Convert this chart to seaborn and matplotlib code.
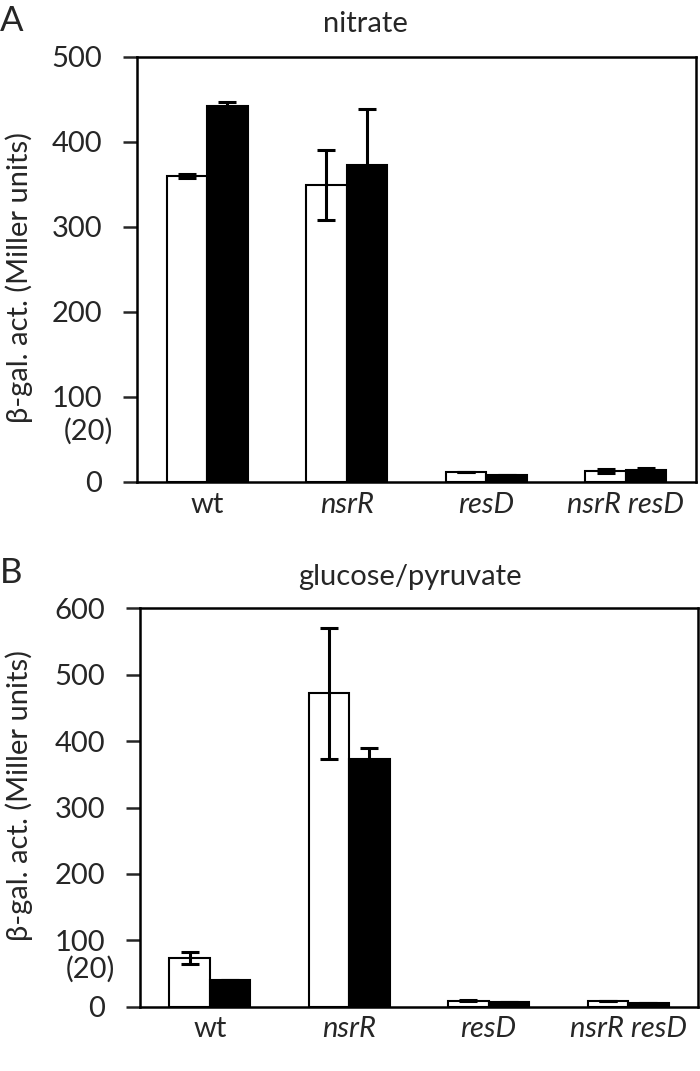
import numpy as np
import pandas as pd
import seaborn as sns
import matplotlib
matplotlib.use('Agg')
import matplotlib.pyplot as plt
from matplotlib.transforms import blended_transform_factory

# %%
'''Data'''

strains = ['wt', 'nsrR', 'resD', 'nsrR resD']
conditions = ['open', 'filled']

nitrate_open = [360, 349, 12, 13]
nitrate_open_err = [2, 41, 0, 2]
nitrate_filled = [442, 373, 8, 14]
nitrate_filled_err = [5, 66, 0, 2]

gluc_open = [74, 472, 9, 9]
gluc_open_err = [9, 99, 1, 0]
gluc_filled = [40, 373, 7, 6]
gluc_filled_err = [0, 17, 0, 0]

sns.set_style('white')
plt.rcParams['font.family'] = ['Lato', 'DejaVu Sans']

FS = 21

fig = plt.figure(figsize=(7, 10.71), dpi=100)
axA = fig.add_axes([0.196, 0.550, 0.798, 0.397])
axB = fig.add_axes([0.200, 0.060, 0.797, 0.372])


def panel(ax, vals_open, err_open, vals_filled, err_filled, ymax, lab_xy, y20):
    df = pd.DataFrame({
        'strain': strains * 2,
        'cond': ['open'] * 4 + ['filled'] * 4,
        'value': list(vals_open) + list(vals_filled),
    })
    sns.barplot(data=df, x='strain', y='value', hue='cond', order=strains,
                hue_order=conditions, palette=['white', 'black'],
                width=0.58, gap=0, errorbar=None, edgecolor='black',
                linewidth=1.5, legend=False, ax=ax)
    for cont, errs, vals in zip(ax.containers, [err_open, err_filled],
                                [vals_open, vals_filled]):
        xs = [p.get_x() + p.get_width() / 2 for p in cont.patches]
        ax.errorbar(xs, vals, yerr=errs, fmt='none', ecolor='black',
                    elinewidth=2.2, capsize=6.5, capthick=2.2, zorder=5)
    ax.set_xlim(-0.5, 3.5)
    ax.set_ylim(0, ymax)
    ax.set_yticks(np.arange(0, ymax + 1, 100))
    ax.set_xlabel('')
    ax.set_ylabel('β-gal. act. (Miller units)', fontsize=FS)
    ax.yaxis.set_label_coords(*lab_xy)
    ax.tick_params(axis='y', direction='out', length=10, width=1.8,
                   pad=15, labelsize=FS, left=True)
    ax.tick_params(axis='x', length=0, pad=7)
    ax.set_xticks(range(4))
    ax.set_xticklabels(strains, fontsize=FS)
    for lab in ax.get_xticklabels()[1:]:
        lab.set_style('italic')
    for s in ax.spines.values():
        s.set_visible(True)
        s.set_color('black')
        s.set_linewidth(1.8)
    tr = blended_transform_factory(ax.transAxes, ax.transData)
    ax.text(-0.088, y20, '(20)', transform=tr, fontsize=FS,
            ha='center', va='center')


panel(axA, nitrate_open, nitrate_open_err, nitrate_filled, nitrate_filled_err,
      500, (-0.186, 0.48), 60)
panel(axB, gluc_open, gluc_open_err, gluc_filled, gluc_filled_err,
      600, (-0.192, 0.53), 56)

fig.text(0.0, 0.971, 'A', fontsize=25, ha='left', va='baseline')
fig.text(0.0, 0.456, 'B', fontsize=25, ha='left', va='baseline')
fig.text(0.522, 0.970, 'nitrate', fontsize=FS, ha='center', va='baseline')
fig.text(0.586, 0.454, 'glucose/pyruvate', fontsize=FS, ha='center', va='baseline')

fig.savefig('out.png', dpi=100)
